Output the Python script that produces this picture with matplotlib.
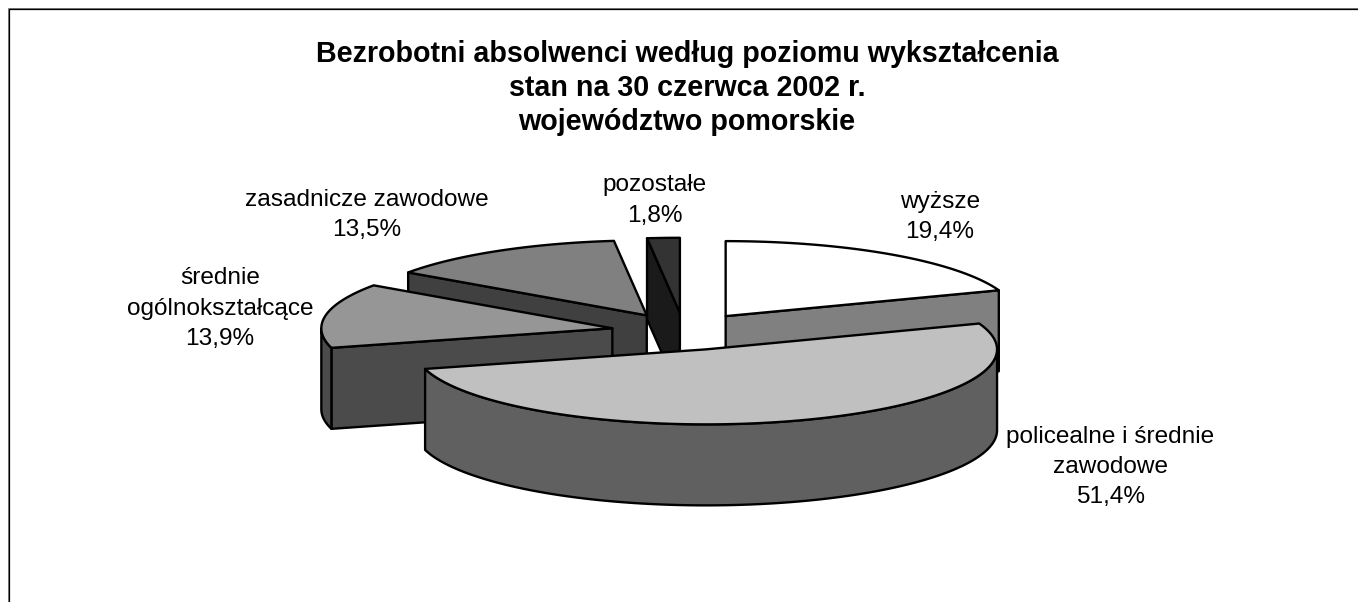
import numpy as np
import matplotlib
matplotlib.use("Agg")
import matplotlib.pyplot as plt
from matplotlib.patches import Polygon

plt.rcParams['font.family'] = ['Liberation Sans', 'DejaVu Sans']

categories = ["wyższe", "policealne i średnie\nzawodowe", "średnie\nogólnokształcące",
              "zasadnicze zawodowe", "pozostałe"]
shares = [19.4, 51.4, 13.9, 13.5, 1.8]
value_labels = ["19,4%", "51,4%", "13,9%", "13,5%", "1,8%"]
top_colors = ["#ffffff", "#c0c0c0", "#969696", "#808080", "#333333"]
side_colors = ["#808080", "#606060", "#4b4b4b", "#404040", "#1a1a1a"]
title_lines = ["Bezrobotni absolwenci według poziomu wykształcenia",
               "stan na 30 czerwca 2002 r.", "województwo pomorskie"]

W, H = 1358, 602
CX, CY, RX, RY, DEPTH, EXPLODE = 684, 331.5, 291, 75, 81, 0.25
LW = 1.7
label_pos = [(940, 217), (1110.5, 467), (220, 308.5), (367, 215), (655, 200.5)]

fig = plt.figure(figsize=(W / 100, H / 100), dpi=100)
ax = fig.add_axes([0, 0, 1, 1])
ax.set_xlim(0, W)
ax.set_ylim(H, 0)
ax.axis("off")

# chart-area border: only the top and left edges fall inside the crop
ax.plot([8, 8, W], [H, 8, 8], color="#808080", lw=0.72, solid_joinstyle="miter")
ax.plot([9, 9, W], [H, 9, 9], color="black", lw=0.9, solid_joinstyle="miter")


def pt(a, t):
    return a[0] + RX * np.sin(t), a[1] - RY * np.cos(t)


def face(xy, color, z):
    ax.add_patch(Polygon(xy, closed=True, facecolor=color, edgecolor="black",
                         lw=LW, joinstyle="round", zorder=z))


edges = np.deg2rad(np.concatenate([[0], np.cumsum(shares)]) * 3.6)
wedges = []
for i in range(len(shares)):
    t0, t1 = edges[i], edges[i + 1]
    mid = (t0 + t1) / 2
    apex = (CX + EXPLODE * RX * np.sin(mid), CY - EXPLODE * RY * np.cos(mid))
    wedges.append((apex[1], i, t0, t1, apex))

z = 2
for _, i, t0, t1, apex in sorted(wedges, key=lambda w: w[0]):
    side = side_colors[i]
    # radial cut faces that turn towards the viewer
    for t, visible in ((t0, np.sin(t0) < -1e-6), (t1, np.sin(t1) > 1e-6)):
        if visible:
            p = pt(apex, t)
            face([apex, p, (p[0], p[1] + DEPTH), (apex[0], apex[1] + DEPTH)], side, z)
            z += 1
    # outer rim, front half only
    lo, hi = max(t0, np.pi / 2), min(t1, 3 * np.pi / 2)
    if hi > lo:
        ts = np.linspace(lo, hi, 120)
        xs, ys = pt(apex, ts)
        face(list(zip(xs, ys)) + list(zip(xs[::-1], ys[::-1] + DEPTH)), side, z)
        z += 1
    # top face
    ts = np.linspace(t0, t1, 160)
    xs, ys = pt(apex, ts)
    face([apex] + list(zip(xs, ys)), top_colors[i], z)
    z += 1

for line, y in zip(title_lines, (53.5, 87.5, 121.5)):
    ax.text(687, y, line, ha="center", va="center", fontsize=20.6,
            fontweight="bold", color="black", zorder=50)

for name, val, (x, y) in zip(categories, value_labels, label_pos):
    ax.text(x, y, name + "\n" + val, ha="center", va="center", fontsize=17.6,
            linespacing=1.5, color="black", zorder=50)

fig.savefig("out.png", dpi=100, facecolor="white")
